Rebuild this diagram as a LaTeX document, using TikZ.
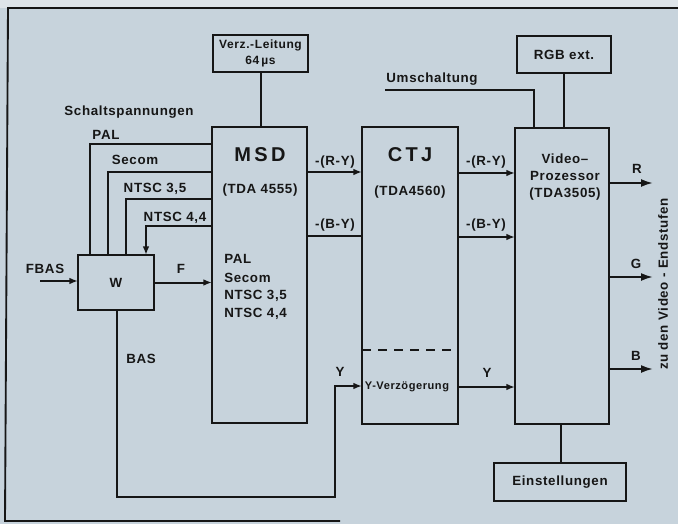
\documentclass[tikz,border=0pt]{standalone}
\usepackage{fontspec}
\setmainfont{Liberation Sans}[LetterSpace=5]
\usetikzlibrary{arrows.meta}
\definecolor{paper}{RGB}{199,211,220}
\definecolor{strip}{RGB}{222,228,233}
\definecolor{ink}{RGB}{22,22,22}
\tikzset{
  block/.style={draw=ink, line width=1.8pt, inner sep=0pt, outer sep=0pt},
  wire/.style={draw=ink, line width=1.5pt},
  sig/.style={wire, -{Latex[length=6.5pt,width=5pt]}},
  outsig/.style={wire, -{Latex[length=9pt,width=6pt]}},
  lbl/.style={inner sep=0pt, text=ink, font=\bfseries\fontsize{10}{12}\selectfont},
  small/.style={lbl, font=\bfseries\fontsize{8.3}{10}\selectfont},
  big/.style={lbl, font=\bfseries\fontsize{15}{18}\selectfont},
}
\begin{document}
\begin{tikzpicture}[x=0.75pt,y=0.75pt,yscale=-1,xscale=1]
\useasboundingbox (0,0) rectangle (678,524);
\fill[paper] (0,0) rectangle (678,524);
\fill[strip] (0,0) rectangle (678,8);

%Frame
\draw[ink, line width=1.4pt] (678,8) -- (8,8) -- (5,521) -- (340,521);

%Blocks
\node[block, minimum width=0.75*95pt, minimum height=0.75*37pt] (verz) at (260.5,53.5) {};
\node[block, minimum width=0.75*95pt, minimum height=0.75*296pt] (msd) at (259.5,275) {};
\node[block, minimum width=0.75*96pt, minimum height=0.75*297pt] (ctj) at (410,275.5) {};
\node[block, minimum width=0.75*94pt, minimum height=0.75*296pt] (vp) at (562,276) {};
\node[block, minimum width=0.75*94pt, minimum height=0.75*37pt] (rgb) at (564,54.5) {};
\node[block, minimum width=0.75*132pt, minimum height=0.75*38pt] (ein) at (560,482) {};
\node[block, minimum width=0.75*76pt, minimum height=0.75*55pt] (w) at (116,282.5) {};

%Dashed divider in CTJ
\draw[wire, dash pattern=on 7pt off 5pt] (ctj.west |- 0,350) -- (ctj.east |- 0,350);

%Straight Lines
\draw[wire] (verz.south) -- (verz.south |- msd.north);
\draw[wire] (rgb.south) -- (rgb.south |- vp.north);
\draw[wire] (vp.south -| 561,0) -- (ein.north -| 561,0);
\coordinate (umsch) at (385,90);
\draw[wire] (umsch) -| (vp.north -| 534,0);

%Schaltspannungen
\draw[wire] (msd.west |- 0,144) -| (w.north -| 90,0);
\draw[wire] (msd.west |- 0,172) -| (w.north -| 108,0);
\draw[wire] (msd.west |- 0,199) -| (w.north -| 126,0);
\draw[sig] (msd.west |- 0,226) -| (w.north -| 146,0);

%FBAS, F, BAS
\coordinate (fbas) at (40,281);
\draw[sig] (fbas) -- (w.west |- fbas);
\draw[sig] (w.east) -- (msd.west |- w.east);
\draw[sig] (w.south -| 117,0) |- (335,497) |- (ctj.west |- 0,386);

%Chroma and luma
\draw[sig] (msd.east |- 0,172) -- (ctj.west |- 0,172);
\draw[wire] (msd.east |- 0,236) -- (ctj.west |- 0,236);
\draw[sig] (ctj.east |- 0,173) -- (vp.west |- 0,173);
\draw[sig] (ctj.east |- 0,237) -- (vp.west |- 0,237);
\draw[sig] (ctj.east |- 0,387) -- (vp.west |- 0,387);

%Outputs
\coordinate (rout) at (653,183);
\coordinate (gout) at (653,277);
\coordinate (bout) at (653,369);
\draw[outsig] (vp.east |- rout) -- (rout);
\draw[outsig] (vp.east |- gout) -- (gout);
\draw[outsig] (vp.east |- bout) -- (bout);

% Text Node
\node[lbl, align=center, font=\bfseries\fontsize{9}{12}\selectfont] (verztxt) at (verz) {Verz.-Leitung\\64\,µs};
\node[lbl] (rgbtxt) at (rgb) {RGB ext.};
\node[lbl] (eintxt) at (ein) {Einstellungen};
\node[lbl] (wtxt) at (w) {W};
\node[lbl] (schalt) at (129,112) {Schaltspannungen};
\node[lbl] (palsw) at (106,135) {PAL};
\node[lbl] (secsw) at (135,160) {Secom};
\node[lbl] (nt35sw) at (155,189) {NTSC 3,5};
\node[lbl] (nt44sw) at (175,218) {NTSC 4,4};
\node[lbl] (fbastxt) at (45,269) {FBAS};
\node[lbl] (ftxt) at (181,269) {F};
\node[lbl] (bastxt) at (141,359) {BAS};
\node[lbl] (ytxt) at (340,372) {Y};
% MSD
\node[big] (msdname) at (260,155) {M\,S\,D};
\node[lbl] (msdtype) at (260,190) {(TDA 4555)};
\node[lbl, anchor=west] (msdpal) at (224,259) {PAL};
\node[lbl, anchor=west] (msdsec) at (224,278) {Secom};
\node[lbl, anchor=west] (msdn35) at (224,296) {NTSC 3,5};
\node[lbl, anchor=west] (msdn44) at (224,314) {NTSC 4,4};
\node[lbl] (ry1) at (335,162) {-(R-Y)};
\node[lbl] (by1) at (335,225) {-(B-Y)};
% CTJ
\node[big] (ctjname) at (410,155) {C\,T\,J};
\node[lbl] (ctjtype) at (410,192) {(TDA4560)};
\node[small] (ydel) at (407,387) {Y-Verzögerung};
\node[lbl] (ry2) at (486,162) {-(R-Y)};
\node[lbl] (by2) at (486,225) {-(B-Y)};
\node[lbl] (y2) at (487,373) {Y};
% Video
\node[lbl, align=center, font=\bfseries\fontsize{10}{13}\selectfont] (vptxt) at (565,177) {Video–\\Prozessor\\(TDA3505)};
\node[lbl] (umschtxt) at (432,79) {Umschaltung};
\node[lbl] (rtxt) at (637,169) {R};
\node[lbl] (gtxt) at (636,264) {G};
\node[lbl] (btxt) at (636,356) {B};
\node[lbl, rotate=90] (endst) at (663,284) {zu den Video - Endstufen};

\end{tikzpicture}
\end{document}
